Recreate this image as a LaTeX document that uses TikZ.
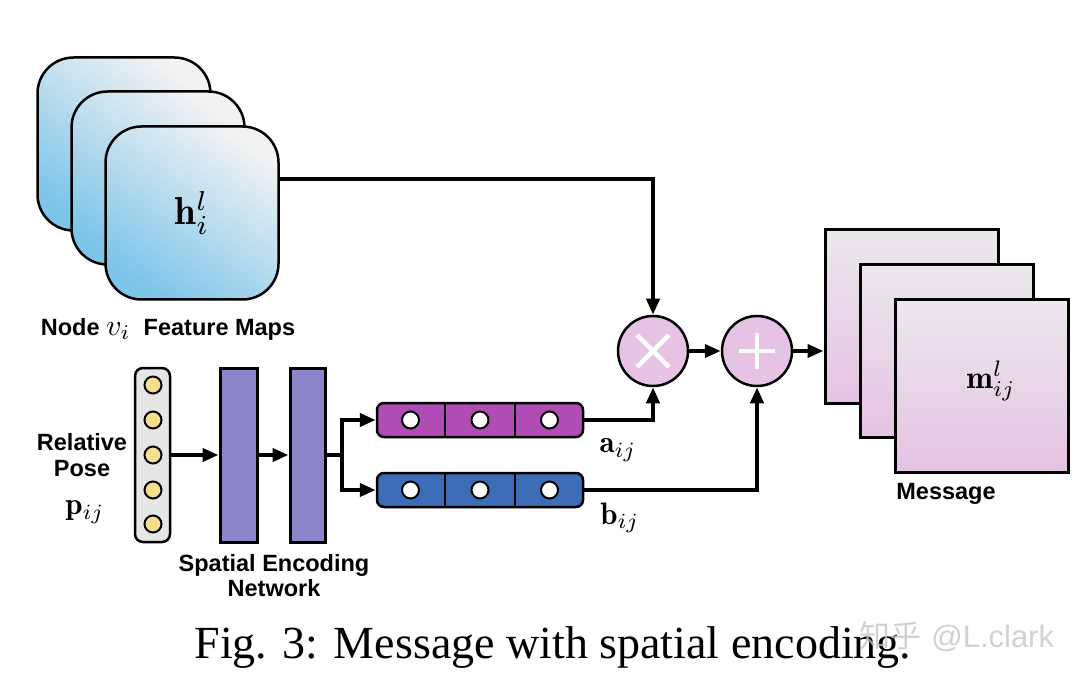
\documentclass[tikz,border=0pt]{standalone}
\usepackage{graphicx}
\usepackage{fontspec}
\setsansfont{Liberation Sans}
\newfontfamily\capfont{Liberation Serif}
\newfontfamily\cjkfont{Noto Sans CJK SC}
\usetikzlibrary{arrows.meta,calc}
\definecolor{fmblue}{HTML}{7EC5EA}
\definecolor{fmlight}{HTML}{F2F2F2}
\definecolor{msgtop}{HTML}{EBE9EC}
\definecolor{msgbot}{HTML}{E5C2E3}
\definecolor{opfill}{HTML}{E6C3E4}
\definecolor{posefill}{HTML}{E6E6E6}
\definecolor{posedot}{HTML}{F5DF8A}
\definecolor{barfill}{HTML}{8A84C9}
\definecolor{afill}{HTML}{B04DB5}
\definecolor{bfill}{HTML}{3D6DB6}
\tikzset{
  fmap/.style={draw, line width=2.5pt, rounded corners=36pt, minimum width=173pt, minimum height=173pt, inner sep=0pt, top color=fmlight, bottom color=fmblue, shading angle=-35},
  msgmap/.style={draw, line width=3pt, minimum width=173pt, minimum height=173pt, inner sep=0pt, top color=msgtop, bottom color=msgbot},
  opnode/.style={draw, circle, line width=2.5pt, fill=opfill, minimum size=70pt, inner sep=0pt},
  sym/.style={white, line width=4.5pt},
  posebox/.style={draw, line width=2.5pt, rounded corners=8pt, fill=posefill, minimum width=35pt, minimum height=174pt, inner sep=0pt},
  posedotst/.style={draw, circle, line width=2pt, fill=posedot, minimum size=17pt, inner sep=0pt},
  barbox/.style={draw, line width=3pt, fill=barfill, minimum height=174pt, inner sep=0pt},
  vecbox/.style={draw, line width=2.5pt, rounded corners=7pt, minimum width=206pt, minimum height=34pt, inner sep=0pt},
  whitedot/.style={draw, circle, line width=2pt, fill=white, minimum size=17pt, inner sep=0pt},
  conn/.style={line width=4pt},
  arr/.style={conn, -{Triangle[length=16pt, width=13pt]}},
  lbl/.style={font=\sffamily\bfseries\fontsize{23.5}{25}\selectfont, inner sep=0pt},
  mathlbl/.style={inner sep=0pt},
}
\begin{document}
\begin{tikzpicture}[x=1pt,y=-1pt]
\useasboundingbox (0,0) rectangle (1086,684);
% feature maps
\node[fmap] (f1) at (124,144) {};
\node[fmap] (f2) at (158,178) {};
\node[fmap] (f3) at (192,213) {};
\node[mathlbl] (hl) at (192,213) {\scalebox{3.9}{$\mathbf{h}_i^l$}};
\node[lbl] (fmlbl) at (168,329) {Node {\normalsize\scalebox{3.0}{$v_i$}}\ \ Feature Maps};
% message maps
\node[msgmap] (m1) at (911.5,316.5) {};
\node[msgmap] (m2) at (946.5,351) {};
\node[msgmap] (m3) at (981.5,386) {};
\node[mathlbl] (ml) at (991,381) {\scalebox{3.2}{$\mathbf{m}_{ij}^l$}};
\node[lbl] (msglbl) at (946,494) {Message};
% operators
\node[opnode] (mult) at (653,351) {};
\draw[sym] ($(mult)+(-16,-16)$) -- ($(mult)+(16,16)$);
\draw[sym] ($(mult)+(-16,16)$) -- ($(mult)+(16,-16)$);
\node[opnode] (plus) at (757,351) {};
\draw[sym] ($(plus)+(-18,0)$) -- ($(plus)+(18,0)$);
\draw[sym] ($(plus)+(0,-18)$) -- ($(plus)+(0,18)$);
% pose vector
\node[posebox] (pose) at (152.5,455) {};
\foreach \i/\y in {1/385,2/420,3/455,4/490,5/524} {
  \node[posedotst] (pd\i) at (153,\y) {};
}
\node[lbl, align=center] (poselbl) at (82,455) {Relative\\[1pt]Pose};
\node[mathlbl] (plbl) at (85,512) {\scalebox{3.1}{$\mathbf{p}_{ij}$}};
% encoder bars
\node[barbox, minimum width=37pt] (bar1) at (238.5,455) {};
\node[barbox, minimum width=35pt] (bar2) at (307.5,455) {};
\node[lbl, align=center] (enclbl) at (274,576) {Spatial Encoding\\[0pt]Network};
% a and b vectors
\node[vecbox, fill=afill] (abox) at (480,420) {};
\node[vecbox, fill=bfill] (bbox) at (480,490) {};
\foreach \b in {abox,bbox} {
  \draw[line width=2pt] ($(\b.north west)!1/3!(\b.north east)$) -- ($(\b.south west)!1/3!(\b.south east)$);
  \draw[line width=2pt] ($(\b.north west)!2/3!(\b.north east)$) -- ($(\b.south west)!2/3!(\b.south east)$);
  \node[whitedot] at ($(\b.west)!1/6!(\b.east)$) {};
  \node[whitedot] at ($(\b.west)!1/2!(\b.east)$) {};
  \node[whitedot] at ($(\b.west)!5/6!(\b.east)$) {};
}
\node[mathlbl] (albl) at (618,450) {\scalebox{3.1}{$\mathbf{a}_{ij}$}};
\node[mathlbl] (blbl) at (620,518) {\scalebox{3.1}{$\mathbf{b}_{ij}$}};
% connectors
\draw[arr] (f3.east |- 0,179) -| (mult.north);
\draw[arr] (pose.east) -- (bar1.west);
\draw[arr] (bar1.east) -- (bar2.west);
\coordinate (br) at (342,455);
\draw[conn] (bar2.east) -- (br);
\draw[arr] (br) |- (abox.west);
\draw[arr] (br) |- (bbox.west);
\draw[arr] (abox.east) -| (mult.south);
\draw[arr] (bbox.east) -| (plus.south);
\draw[arr] (mult.east) -- (plus.west);
\draw[arr] (plus.east) -- (plus.east -| m1.west);
% caption and watermark
\node[font=\capfont\fontsize{46}{50}\selectfont, inner sep=0pt] (cap) at (553,648) {Fig. 3: Message with spatial encoding.};
\node[font=\fontsize{31}{32}\selectfont, text=gray!45, opacity=0.8, inner sep=0pt] (wm) at (957,637) {{\cjkfont 知乎} \sffamily @L.clark};
\end{tikzpicture}
\end{document}
